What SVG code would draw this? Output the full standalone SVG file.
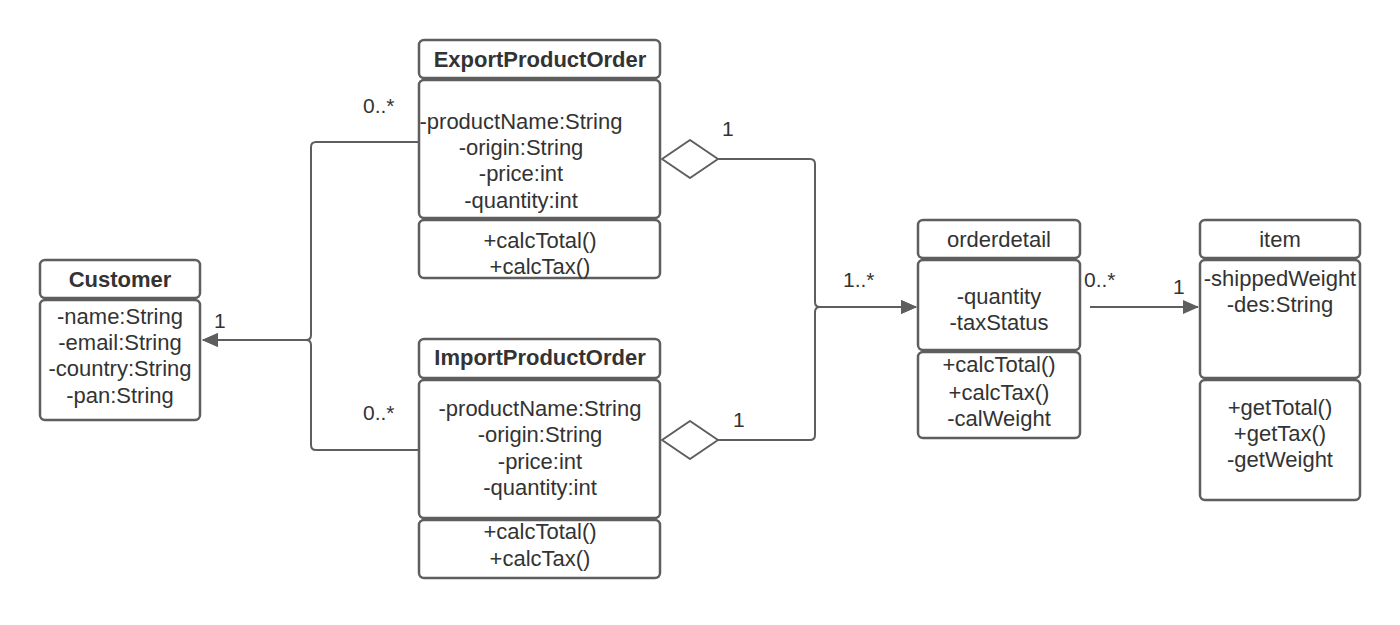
<svg xmlns="http://www.w3.org/2000/svg" width="1400" height="625" viewBox="0 0 1400 625">
<defs>
<style>
.box{fill:#fff;stroke:#5e5e5e;stroke-width:2.5}
.t{font-family:"Liberation Sans",Arial,sans-serif;font-size:22px;fill:#333;text-anchor:middle;dominant-baseline:central}
.b{font-weight:bold}
.c{fill:none;stroke:#5e5e5e;stroke-width:2}
.lbl{font-family:"Liberation Sans",Arial,sans-serif;font-size:21px;fill:#333}
</style>
<marker id="arr" viewBox="0 0 16 14" refX="15" refY="7" markerWidth="16" markerHeight="14" markerUnits="userSpaceOnUse" orient="auto">
<path d="M0,0 L16,7 L0,14 Z" fill="#5e5e5e"/>
</marker>
</defs>
<rect width="1400" height="625" fill="#fff"/>
<g id="connectors">
<path class="c" d="M419,142 H316 Q311,142 311,147 V335 Q311,340 306,340 H203" marker-end="url(#arr)"/>
<path class="c" d="M419,450 H316 Q311,450 311,445 V345 Q311,340 306,340 H203" marker-end="url(#arr)"/>
<path class="c" d="M718,159 H810 Q815,159 815,164 V302 Q815,307 820,307 H916" marker-end="url(#arr)"/>
<path class="c" d="M718,440 H810 Q815,440 815,435 V312 Q815,307 820,307 H916" marker-end="url(#arr)"/>
<path class="c" d="M662,159 L690,140 L718,159 L690,178 Z" stroke-linejoin="round" fill="#fff" stroke-width="2.5"/>
<path class="c" d="M662,440 L690,421 L718,440 L690,459 Z" stroke-linejoin="round" fill="#fff" stroke-width="2.5"/>
<path class="c" d="M1090,307 H1198" marker-end="url(#arr)"/>
<text class="lbl" x="214" y="328">1</text>
<text class="lbl" x="363" y="113">0..*</text>
<text class="lbl" x="363" y="420">0..*</text>
<text class="lbl" x="722" y="136">1</text>
<text class="lbl" x="733" y="427">1</text>
<text class="lbl" x="843" y="287">1..*</text>
<text class="lbl" x="1084" y="287">0..*</text>
<text class="lbl" x="1173" y="294">1</text>
</g>
<g id="customer">
<rect class="box" x="40" y="260" width="160" height="38" rx="5"/>
<rect class="box" x="40" y="300" width="160" height="120" rx="5"/>
<text class="t b" x="120" y="279">Customer</text>
<text class="t" x="120" y="316">-name:String</text>
<text class="t" x="120" y="342">-email:String</text>
<text class="t" x="120" y="368">-country:String</text>
<text class="t" x="120" y="395">-pan:String</text>
</g>
<g id="export">
<rect class="box" x="419" y="40" width="241" height="38" rx="5"/>
<rect class="box" x="419" y="80" width="241" height="138" rx="5"/>
<rect class="box" x="419" y="220" width="241" height="58" rx="5"/>
<text class="t b" x="540" y="59">ExportProductOrder</text>
<text class="t" x="521" y="121">-productName:String</text>
<text class="t" x="521" y="147">-origin:String</text>
<text class="t" x="521" y="173">-price:int</text>
<text class="t" x="521" y="200">-quantity:int</text>
<text class="t" x="540" y="240">+calcTotal()</text>
<text class="t" x="540" y="266">+calcTax()</text>
</g>
<g id="import">
<rect class="box" x="419" y="339" width="241" height="39" rx="5"/>
<rect class="box" x="419" y="380" width="241" height="138" rx="5"/>
<rect class="box" x="419" y="520" width="241" height="58" rx="5"/>
<text class="t b" x="540" y="357">ImportProductOrder</text>
<text class="t" x="540" y="408">-productName:String</text>
<text class="t" x="540" y="434">-origin:String</text>
<text class="t" x="540" y="461">-price:int</text>
<text class="t" x="540" y="487">-quantity:int</text>
<text class="t" x="540" y="531">+calcTotal()</text>
<text class="t" x="540" y="558">+calcTax()</text>
</g>
<g id="orderdetail">
<rect class="box" x="918" y="220" width="162" height="38" rx="5"/>
<rect class="box" x="918" y="260" width="162" height="90" rx="5"/>
<rect class="box" x="918" y="352" width="162" height="86" rx="5"/>
<text class="t" x="999" y="239">orderdetail</text>
<text class="t" x="999" y="296">-quantity</text>
<text class="t" x="999" y="322">-taxStatus</text>
<text class="t" x="999" y="364">+calcTotal()</text>
<text class="t" x="999" y="392">+calcTax()</text>
<text class="t" x="999" y="418">-calWeight</text>
</g>
<g id="item">
<rect class="box" x="1200" y="220" width="160" height="38" rx="5"/>
<rect class="box" x="1200" y="260" width="160" height="118" rx="5"/>
<rect class="box" x="1200" y="380" width="160" height="120" rx="5"/>
<text class="t" x="1280" y="239">item</text>
<text class="t" x="1280" y="278">-shippedWeight</text>
<text class="t" x="1280" y="304">-des:String</text>
<text class="t" x="1280" y="407">+getTotal()</text>
<text class="t" x="1280" y="433">+getTax()</text>
<text class="t" x="1280" y="459">-getWeight</text>
</g>
</svg>
